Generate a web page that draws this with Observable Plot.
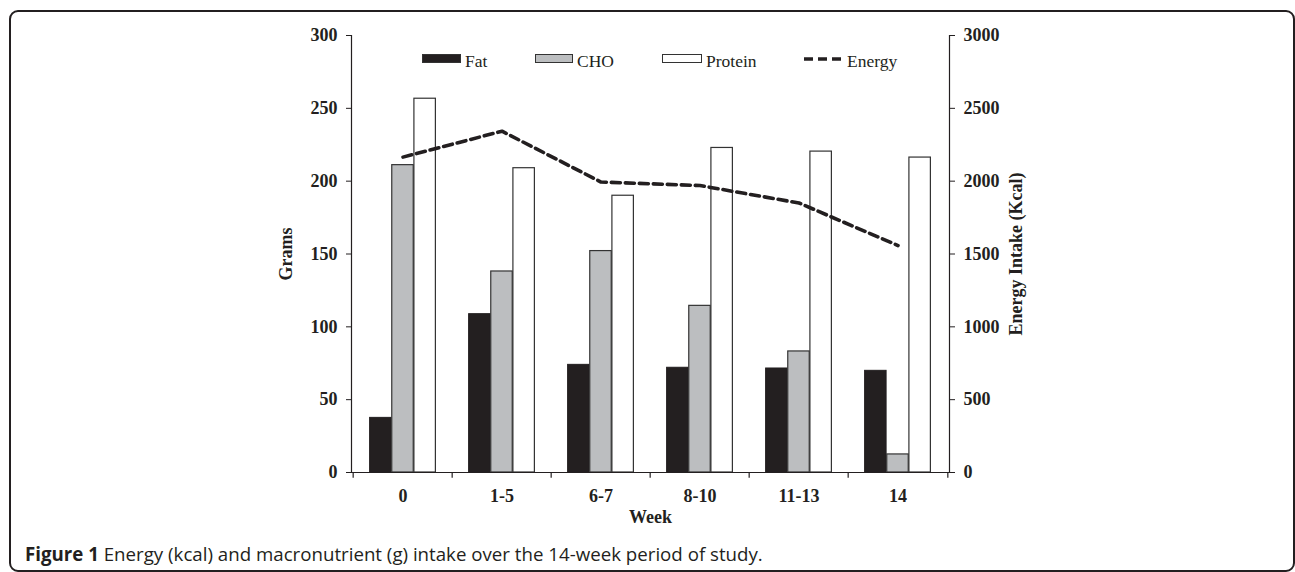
<!DOCTYPE html>
<html>
<head>
<meta charset="utf-8">
<script src="https://cdn.jsdelivr.net/npm/d3@7"></script>
<script src="https://cdn.jsdelivr.net/npm/@observablehq/plot@0.6"></script>
<style>
  html, body { margin: 0; padding: 0; background: #fff; }
  body { width: 1295px; height: 572px; position: relative; overflow: hidden; }
  #frame { position: absolute; left: 9px; top: 10px; width: 1286px; height: 562px;
           border: 2px solid #231f20; border-radius: 9px; box-sizing: border-box; }
  #chart { position: absolute; left: 0; top: 0; }
  .leg { position: absolute; font-family: "Liberation Serif", "Times New Roman", serif;
         font-size: 17.5px; line-height: 1; color: #231f20; }
  .sw { position: absolute; box-sizing: border-box; border: 1.2px solid #333; }
  #caption { position: absolute; left: 25px; top: 541px; font-family: "Open Sans", sans-serif;
             font-size: 18.7px; color: #231f20; white-space: nowrap; }
</style>
</head>
<body>
<div id="frame"></div>
<div id="chart"></div>
<div class="sw" style="left:422px;top:54px;width:39px;height:9px;background:#231f20;"></div>
<div class="leg" style="left:465px;top:53px;">Fat</div>
<div class="sw" style="left:535px;top:54px;width:38px;height:9px;background:#bcbec0;"></div>
<div class="leg" style="left:577px;top:53px;">CHO</div>
<div class="sw" style="left:662px;top:54px;width:40px;height:9px;background:#fff;"></div>
<div class="leg" style="left:706px;top:53px;">Protein</div>
<svg style="position:absolute;left:800px;top:50px;" width="45" height="20">
  <line x1="4" y1="9" x2="41" y2="9" stroke="#231f20" stroke-width="3.5" stroke-dasharray="9,5"/>
</svg>
<div class="leg" style="left:847px;top:53px;">Energy</div>
<div id="caption"><b>Figure 1</b> Energy (kcal) and macronutrient (g) intake over the 14-week period of study.</div>
<script>
const weeks = ["0", "1-5", "6-7", "8-10", "11-13", "14"];
const fat = [37.5, 108.7, 73.9, 71.9, 71.4, 69.8];
const cho = [211, 138, 152, 114.4, 83.1, 12.4];
const protein = [256.6, 208.9, 190, 222.8, 220.3, 216.2];
const energy = [2165, 2343, 1994, 1970, 1850, 1558];
const gramTicks = [0, 50, 100, 150, 200, 250, 300];
const kcalPerGramAxis = 10;

const rows = weeks.map((w, i) => ({week: w, fat: fat[i], cho: cho[i], protein: protein[i], energy: energy[i]}));

const W = 1295, H = 530, mL = 351, mR = 346, mT = 35, mB = 58;
const bw = (W - mL - mR) / weeks.length;
const pad = bw / 6, barW = bw * 2 / 9;

const ink = "#231f20";
const chart = Plot.plot({
  width: W, height: H,
  marginLeft: mL, marginRight: mR, marginTop: mT, marginBottom: mB,
  style: {fontFamily: "'Liberation Serif', 'Times New Roman', serif", fontSize: "18px", fontWeight: "bold", color: ink, background: "transparent", overflow: "visible"},
  x: {domain: weeks, padding: 0},
  y: {domain: [0, 300]},
  marks: [
    Plot.barY(rows, {x: "week", y: "fat", fill: ink, stroke: ink, strokeWidth: 1, insetLeft: pad, insetRight: bw - pad - barW}),
    Plot.barY(rows, {x: "week", y: "cho", fill: "#bcbec0", stroke: "#333", strokeWidth: 1.2, insetLeft: pad + barW, insetRight: pad + barW}),
    Plot.barY(rows, {x: "week", y: "protein", fill: "#fff", stroke: "#333", strokeWidth: 1.2, insetLeft: bw - pad - barW, insetRight: pad}),
    Plot.lineY(rows, {x: "week", y: d => d.energy / kcalPerGramAxis, stroke: ink, strokeWidth: 3.6, strokeDasharray: "9,5", strokeLinejoin: "round"}),
    Plot.ruleY([0], {stroke: ink, strokeWidth: 1.2}),
    Plot.frame({anchor: "left", stroke: ink, strokeWidth: 1.2}),
    Plot.frame({anchor: "right", stroke: ink, strokeWidth: 1.2}),
    Plot.ruleX(weeks, {x: d => d, dx: -bw / 2, y1: 0, y2: -4, stroke: ink, strokeWidth: 1.2}),
    Plot.ruleX([weeks[weeks.length - 1]], {x: d => d, dx: bw / 2, y1: 0, y2: -4, stroke: ink, strokeWidth: 1.2}),
    Plot.axisY(gramTicks, {anchor: "left", tickSize: 5, tickPadding: 9, label: "Grams", labelAnchor: "center", labelArrow: "none", labelOffset: 72}),
    Plot.axisY(gramTicks, {anchor: "right", tickSize: 5, tickPadding: 9, tickFormat: d => String(d * kcalPerGramAxis), label: "Energy Intake (Kcal)", labelAnchor: "center", labelArrow: "none", labelOffset: 72}),
    Plot.axisX({tickSize: 0, tickPadding: 17, label: "Week", labelAnchor: "center", labelArrow: "none", labelOffset: 50})
  ]
});
document.getElementById("chart").appendChild(chart);
</script>
</body>
</html>
